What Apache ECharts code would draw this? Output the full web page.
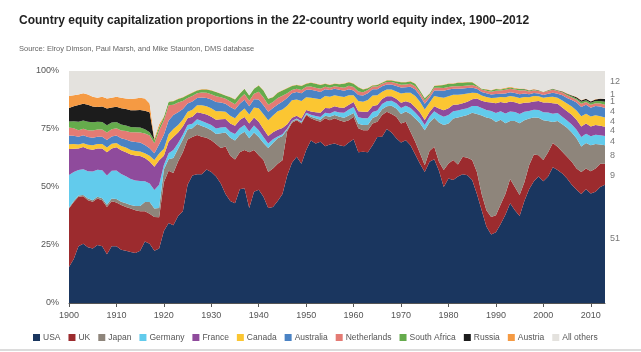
<!DOCTYPE html>
<html>
<head>
<meta charset="utf-8">
<script src="https://cdn.jsdelivr.net/npm/echarts@6/dist/echarts.min.js"></script>
<style>
html, body { margin: 0; padding: 0; background: #fff; }
#chart { width: 641px; height: 352px; }
</style>
</head>
<body>
<div id="chart"></div>
<script>
// years 1900..2013 on a category axis
var years = [];
for (var yr = 1900; yr <= 2013; yr++) years.push(String(yr));

// shares of world equity capitalisation, %
var usa = [15.5, 19, 24.5, 25.5, 24, 23.5, 25, 24.5, 21, 24.5,
  24.5, 23, 22.5, 22, 21.5, 22.5, 26.5, 25.5, 22.5, 23.5,
  31, 34.5, 33.5, 37.5, 39.5, 51, 55, 55.5, 55.5, 57.5,
  56.5, 54.5, 51.5, 47, 44, 43, 49, 49.5, 41, 48,
  48.8, 45.8, 41, 41.4, 44, 47, 55, 60.5, 63, 60,
  66, 70, 68.8, 69.5, 67.6, 68.3, 68.8, 68, 67.6, 69.2,
  70.6, 65, 65.2, 65, 68, 71.5, 71.7, 75, 73.5, 71,
  69.2, 70.2, 68, 64, 60, 56.5, 60.9, 62, 57, 50,
  53.7, 53, 54.5, 55.5, 55.1, 53, 47, 40, 33, 29.5,
  30.5, 34, 38, 43, 40, 37.5, 44, 49, 52.5, 54.5,
  52.5, 54.5, 58.5, 57.3, 55.8, 53.7, 51, 48.8, 47, 49,
  47.2, 48, 50, 51];
var uk = [25.2, 24.5, 21.3, 20.5, 20.3, 20.1, 20, 19.8, 20.4, 19.4,
  18.8, 19.2, 18.9, 18.7, 18.5, 17, 13, 13, 14.6, 13.5,
  21, 22.5, 22.5, 23.5, 25.5, 19.5, 16.5, 16.9, 16.2, 13.7,
  13.7, 14, 15.3, 20.5, 19.5, 18.8, 16, 16.5, 24, 18,
  14.9, 15.8, 15.5, 16.6, 16, 14.5, 19, 17.2, 15.8, 17.4,
  15, 9.6, 10, 8.6, 12, 10.5, 10.8, 10.8, 10.5, 9.6,
  9.7, 10.3, 9.3, 9.5, 9.4, 6.6, 9.3, 7.4, 8, 9.3,
  8.2, 7.9, 5.8, 5.5, 4.5, 2.9, 4.6, 5.3, 3.9, 7.3,
  6.4, 8.6, 5.2, 7.5, 7.5, 8.6, 9.5, 7, 7, 7.6,
  7.3, 8.5, 9, 10.5, 10, 9, 8, 10.4, 11.5, 9.2,
  9.1, 10.5, 10.5, 10, 9.4, 9.3, 9.9, 9.2, 9.5, 9,
  9.6, 10, 10, 9];
var japan = [0.5, 0.5, 0.5, 0.5, 0.7, 0.7, 0.8, 0.9, 1, 1.1,
  1.5, 1.4, 1.6, 1.5, 1.8, 2.3, 4, 5, 3.6, 4,
  5.5, 5, 6.5, 5.5, 5.5, 4.3, 3.8, 4.8, 4.6, 4.3,
  4.3, 4.3, 6.4, 6, 7.7, 8.2, 7.5, 7.8, 6, 7.5,
  7.8, 7.4, 10.3, 11, 11, 10.5, 0.8, 0.5, 0.4, 0.5,
  0.4, 0.7, 0.8, 0.9, 1.1, 1.5, 1.4, 1.5, 1.7, 2,
  1.6, 2, 2.2, 2.2, 2.3, 2.5, 2.5, 2.4, 3.5, 3.5,
  4.1, 4.4, 7.7, 10, 13, 15.1, 12.3, 12.5, 16.9, 19.4,
  17.3, 17.9, 20.3, 17.5, 18.4, 20.4, 25, 33.8, 40, 42.4,
  40.2, 36.5, 30.5, 25, 28.5, 31, 26.8, 20.1, 16, 16.1,
  17.2, 13.5, 9, 11.2, 11.8, 12.5, 12.6, 13, 11, 11,
  11.2, 10.5, 8.3, 8];
var germany = [14, 12.5, 11, 11.2, 11.8, 12.4, 11.6, 12, 12.6, 12,
  12.3, 12, 11.6, 11.2, 11, 10.8, 9, 8, 8, 10,
  2, 2.5, 3.5, 2.5, 2, 1.9, 2, 2, 2.1, 2.1,
  2.2, 2.4, 2.4, 2.4, 2.6, 2.8, 2.8, 2.9, 2.9, 3,
  3, 2.6, 2, 1.6, 0.8, 0.7, 0.4, 0.3, 0.3, 0.4,
  0.6, 0.8, 1, 1.2, 1.3, 1.4, 1.6, 1.8, 2.2, 2.6,
  2.6, 2.8, 2.9, 2.9, 2.6, 2.4, 2.3, 2.2, 2.2, 2.3,
  2.6, 2.5, 2.6, 2.6, 2.4, 2.2, 2.5, 2.8, 3.4, 3.6,
  3.6, 3.2, 3, 3, 2.9, 2.9, 3.4, 3.2, 3.2, 3.3,
  3.9, 3.6, 4.2, 4, 3.8, 4, 3.6, 3.3, 3.3, 3.4,
  3.4, 3.6, 3.6, 3.4, 3.3, 3.2, 3.4, 3.7, 4, 4,
  3.9, 4, 4, 4];
var france = [11.2, 10, 9.3, 9.5, 9.6, 9.4, 9.2, 9.4, 10, 9.6,
  10, 10.2, 10.4, 10.6, 10.8, 10.8, 10, 9.5, 10, 10.5,
  4, 5, 5.5, 4.5, 3.6, 2.9, 3, 3, 3.4, 3.6,
  3.6, 3.8, 3.6, 3.4, 3.6, 3.6, 3.6, 3.5, 3.5, 3.5,
  3.6, 3.4, 3.2, 3, 2.9, 2.7, 1.8, 1.4, 1.2, 1.2,
  1.2, 1.4, 1.6, 1.8, 2, 2.2, 2.2, 2.2, 2.2, 2.1,
  2.1, 2.5, 2.8, 2.8, 2.6, 2.3, 2.1, 2.1, 1.9, 1.9,
  2.2, 2, 2.2, 2.3, 2.2, 2.2, 2, 2.2, 2.6, 2.8,
  2.9, 2.7, 2.6, 2.6, 2.8, 2.9, 3.2, 3.2, 3.4, 3.6,
  4.2, 4, 4.5, 4.3, 4.2, 4.4, 3.9, 3.6, 3.6, 3.9,
  4.2, 4.3, 4.5, 4, 4, 4, 4.2, 4.3, 4.6, 4.4,
  4.2, 4.2, 4.1, 4];
var canada = [2, 2, 1.7, 1.7, 1.8, 1.9, 1.9, 1.9, 2, 2,
  1.9, 1.9, 2, 2, 1.9, 1.9, 2, 2.5, 2.9, 2.9,
  3, 3.2, 3.5, 3.2, 3, 2.8, 3, 3, 3.4, 3.6,
  3.6, 3.6, 3.4, 3.1, 3.3, 3.2, 3.2, 3.6, 3.8, 4.3,
  5.8, 6.4, 6.8, 7.2, 7.9, 8, 8, 7.5, 7, 7.6,
  5.5, 6, 6, 5.8, 5.2, 5, 4.7, 4.8, 4.6, 4,
  2.9, 4.5, 4.3, 5.1, 4.5, 4.3, 3.2, 2.9, 2.9, 3.2,
  4, 3.6, 4.3, 4.8, 4.6, 4.5, 4, 4.4, 5, 5.4,
  5.2, 4.4, 4.2, 3.9, 3.6, 2.8, 2.4, 2.2, 2.2, 2,
  2.4, 2.2, 2.5, 2.4, 2.4, 2.5, 2.5, 2.3, 2.3, 2,
  2.1, 2.4, 2.8, 2.6, 3, 3.3, 3.6, 4, 4.4, 4.2,
  4.3, 4.2, 4.1, 4];
var australia = [3.8, 3.6, 3.4, 3.4, 3.4, 3.2, 3.2, 3.2, 3.3, 3.2,
  3.2, 3.3, 3.5, 3.7, 3.9, 3.9, 3.6, 3.2, 3, 4,
  6, 6, 6, 5.5, 4.5, 3.6, 3.6, 3.2, 3.4, 3.6,
  3.8, 4, 3.8, 3.5, 3.8, 3.8, 3.8, 3.8, 3.6, 3.5,
  3.8, 3.8, 3.6, 3.2, 3, 3.4, 3.4, 3, 3.3, 3.3,
  3.2, 3.4, 3.3, 3.2, 2.9, 2.9, 2.8, 2.8, 2.7, 2.6,
  2.1, 2.6, 2.7, 2.9, 2.7, 2.5, 2.3, 2.2, 2.2, 2.3,
  2.6, 2.4, 2.6, 2.8, 2.6, 2.5, 2.2, 2.4, 2.8, 3,
  2.9, 2.6, 2.6, 2.5, 2.4, 2.2, 1.8, 1.6, 1.6, 1.5,
  1.6, 1.4, 1.6, 1.6, 1.6, 1.6, 1.5, 1.3, 1.3, 1.2,
  1.2, 1.4, 1.7, 1.7, 2.2, 2.4, 2.8, 3.4, 4, 3.8,
  3.8, 4, 4.2, 4];
var netherlands = [3.4, 3.2, 2.8, 2.8, 2.9, 3.2, 3.1, 3.1, 3.2, 3.1,
  3.1, 3.3, 3.6, 3.9, 4.2, 4.3, 5, 5.5, 4.3, 6,
  6.3, 6.5, 4.5, 4.2, 3.5, 2.4, 2.3, 2, 2.1, 2.2,
  2.3, 2.5, 2.3, 2.1, 2.3, 2.3, 2.3, 2.5, 2.4, 2.4,
  3.4, 3.4, 3, 2.6, 2.8, 2.5, 2, 1.4, 1.3, 1.4,
  1.3, 1.4, 1.3, 1.3, 1.1, 1, 1.1, 1.2, 1.3, 1.5,
  1.5, 1.5, 1.4, 1.4, 1.2, 1.2, 1.1, 1.1, 1.1, 1.2,
  1.2, 1.2, 1.3, 1.4, 1.4, 1.4, 1.1, 1.2, 1.2, 1.2,
  1.1, 1, 1, 1, 1.1, 1.2, 1, 1, 1.1, 1.2,
  1.4, 1.4, 1.6, 1.6, 1.5, 1.6, 1.4, 1.2, 1.2, 1.1,
  1.1, 1.2, 1.3, 1.2, 1.2, 1.1, 1.1, 1.2, 1.4, 1.2,
  1.2, 1.2, 1.3, 1.5];
var southAfrica = [2.6, 3, 3.6, 3.6, 3.6, 3.5, 3.3, 3.2, 3.1, 2.9,
  2.7, 2.6, 2.4, 2.3, 2.2, 2.2, 1.8, 1.4, 1.4, 1.4,
  1.4, 1.5, 1.5, 1.5, 1.5, 1.3, 1.4, 1.2, 1.3, 1.4,
  1.6, 1.8, 1.5, 1.4, 1.9, 2, 2, 2.2, 2.2, 2.1,
  2.7, 3, 2.6, 2.1, 2.2, 2.3, 2.2, 1.7, 1.7, 1.7,
  1.3, 1.6, 1.7, 1.7, 1.3, 1.2, 1.1, 1.2, 1.7, 1.6,
  1.4, 1.8, 1.2, 0.8, 0.5, 0.7, 0.4, 0.6, 0.6, 0.8,
  1.1, 1, 1, 1.1, 0.9, 1, 0.6, 0.7, 1, 1.3,
  1.4, 1.1, 1.5, 1.4, 1.4, 1.2, 0.5, 0.3, 0.5, 0.5,
  0.7, 0.4, 0.6, 0.5, 0.5, 0.6, 0.4, 0.3, 0.2, 0.2,
  0.1, 0.2, 0.3, 0.2, 0.3, 0.5, 0.5, 0.6, 0.8, 0.8,
  0.9, 1, 1.1, 1.2];
var russia = [5.8, 6.5, 7.2, 7.2, 7.3, 6.8, 6.4, 6.7, 7.2, 6.5,
  6.6, 7, 7.1, 7.2, 7.3, 7.5, 8, 8.6, 0, 0,
  0, 0, 0, 0, 0, 0, 0, 0, 0, 0,
  0, 0, 0, 0, 0, 0, 0, 0, 0, 0,
  0, 0, 0, 0, 0, 0, 0, 0, 0, 0,
  0, 0, 0, 0, 0, 0, 0, 0, 0, 0,
  0, 0, 0, 0, 0, 0, 0, 0, 0, 0,
  0, 0, 0, 0, 0, 0, 0, 0, 0, 0,
  0, 0, 0, 0, 0, 0, 0, 0, 0, 0,
  0, 0, 0, 0, 0, 0, 0.1, 0.1, 0.1, 0.1,
  0.1, 0.1, 0.2, 0.1, 0.2, 0.2, 0.3, 0.5, 0.6, 0.6,
  0.5, 0.6, 0.9, 1.2];
var austria = [5.2, 4.8, 4.6, 4.5, 4.5, 4.2, 4, 4.2, 4.4, 4.2,
  4.3, 4.6, 4.6, 4.8, 5.1, 5.3, 5.3, 3.8, 0.7, 1.2,
  0.3, 0.2, 0.2, 0.2, 0.2, 0.2, 0.2, 0.2, 0.2, 0.2,
  0.2, 0.2, 0.2, 0.2, 0.2, 0.2, 0.2, 0.2, 0.2, 0.2,
  0.2, 0.2, 0.2, 0.2, 0.2, 0.2, 0.2, 0.2, 0.2, 0.2,
  0.2, 0.2, 0.2, 0.2, 0.2, 0.2, 0.2, 0.2, 0.2, 0.2,
  0.2, 0.2, 0.2, 0.2, 0.2, 0.2, 0.2, 0.2, 0.2, 0.2,
  0.2, 0.2, 0.2, 0.2, 0.2, 0.2, 0.2, 0.2, 0.2, 0.2,
  0.2, 0.2, 0.2, 0.2, 0.2, 0.2, 0.2, 0.2, 0.2, 0.2,
  0.3, 0.3, 0.3, 0.3, 0.3, 0.3, 0.3, 0.2, 0.2, 0.1,
  0.1, 0.1, 0.1, 0.1, 0.2, 0.2, 0.2, 0.2, 0.2, 0.2,
  0.2, 0.2, 0.2, 0.3];
var allOthers = [10.8, 10.4, 10.1, 9.6, 10.1, 11.1, 11.5, 11.1, 11.8, 11.5,
  11.1, 11.5, 11.8, 12.1, 11.8, 11.5, 11.8, 14, 29, 23,
  19.5, 13.1, 12.8, 11.9, 11.2, 10.1, 9.2, 8.2, 7.8, 7.8,
  8.2, 8.9, 9.6, 10.4, 11.1, 12.1, 9.6, 7.5, 10.4, 7.5,
  6, 8.2, 11.8, 11.1, 9.2, 8.2, 7.2, 6.3, 5.8, 6.3,
  5.3, 4.9, 5.3, 5.8, 5.3, 5.8, 5.3, 5.5, 5.3, 4.6,
  5.3, 6.8, 7.8, 7.2, 6, 5.8, 4.9, 3.9, 3.9, 4.3,
  4.6, 4.6, 4.3, 5.3, 8.2, 11.5, 9.6, 6.3, 6, 5.8,
  5.3, 5.3, 4.9, 4.9, 4.6, 4.6, 6, 7.5, 7.8, 8.2,
  7.5, 7.7, 7.2, 6.8, 7.2, 7.5, 7.5, 8.2, 7.8, 8.2,
  8.9, 8.2, 7.5, 8.2, 8.6, 9.6, 10.4, 11.1, 12.5, 11.8,
  13, 12.1, 11.8, 11.8];

var names = ['USA', 'UK', 'Japan', 'Germany', 'France', 'Canada', 'Australia',
  'Netherlands', 'South Africa', 'Russia', 'Austria', 'All others'];
var seriesData = [usa, uk, japan, germany, france, canada, australia,
  netherlands, southAfrica, russia, austria, allOthers];
var colors = ['#1a365f', '#9c2b2e', '#8e857b', '#62cbec', '#8f4b9c', '#fbc632',
  '#4b83c4', '#e47b74', '#65ab4c', '#1c1c1c', '#f59a43', '#e4e2de'];

// end-of-period shares printed at the right edge
var endLabels = ['12', '1', '1', '4', '4', '4', '4', '8', '9', '51'];
var endLabelPos = [95.4, 90, 87, 82.4, 78.4, 74.2, 69.8, 63.6, 55.1, 28];

var font = 'Liberation Sans, Arial, Helvetica, sans-serif';
var chart = echarts.init(document.getElementById('chart'));

var series = names.map(function (n, i) {
  return {
    name: n,
    type: 'line',
    stack: 'total',
    data: seriesData[i],
    showSymbol: false,
    symbol: 'none',
    lineStyle: { width: 0 },
    areaStyle: { color: colors[i], opacity: 1 },
    itemStyle: { color: colors[i] },
    emphasis: { disabled: true },
    animation: false
  };
});

series.push({
  name: 'end',
  type: 'scatter',
  symbolSize: 0,
  clip: false,
  silent: true,
  data: endLabelPos.map(function (p, i) { return [years.length - 1, p, endLabels[i]]; }),
  label: {
    show: true,
    position: 'right',
    distance: 5,
    color: '#555',
    fontSize: 9,
    fontFamily: font,
    formatter: function (p) { return p.value[2]; }
  },
  animation: false
});

chart.setOption({
  backgroundColor: '#fff',
  animation: false,
  title: [{
    text: 'Country equity capitalization proportions in the 22-country world equity index, 1900\u20132012',
    left: 14,
    top: 10,
    textStyle: { fontSize: 12, fontWeight: 'bold', color: '#222', fontFamily: font }
  }, {
    text: 'Source: Elroy Dimson, Paul Marsh, and Mike Staunton, DMS database',
    left: 14,
    top: 40,
    textStyle: { fontSize: 7.5, fontWeight: 'normal', color: '#666', fontFamily: font }
  }],
  legend: {
    data: names,
    left: 28,
    top: 328,
    itemWidth: 7,
    itemHeight: 7,
    itemGap: 8,
    icon: 'rect',
    textStyle: { fontSize: 8.5, color: '#555', fontFamily: font, padding: [0, 0, 0, -2] }
  },
  grid: { left: 69, right: 36, top: 71, bottom: 49 },
  xAxis: {
    type: 'category',
    data: years,
    boundaryGap: false,
    axisLine: { lineStyle: { color: '#555', width: 1 } },
    axisTick: {
      length: 4,
      lineStyle: { color: '#555' },
      interval: function (i) { return i % 10 === 0; }
    },
    axisLabel: {
      interval: function (i) { return i % 10 === 0; },
      color: '#555',
      fontSize: 9,
      margin: 8,
      fontFamily: font
    },
    splitLine: { show: false }
  },
  yAxis: {
    type: 'value',
    min: 0,
    max: 100,
    interval: 25,
    axisLine: { show: false },
    axisTick: { show: false },
    splitLine: { show: false },
    axisLabel: {
      formatter: '{value}%',
      color: '#555',
      fontSize: 9,
      margin: 10,
      fontFamily: font
    }
  },
  graphic: [{
    type: 'rect',
    left: 0,
    top: 349,
    shape: { width: 641, height: 2 },
    style: { fill: '#dcdcdc' },
    silent: true
  }],
  series: series
});
</script>
</body>
</html>
